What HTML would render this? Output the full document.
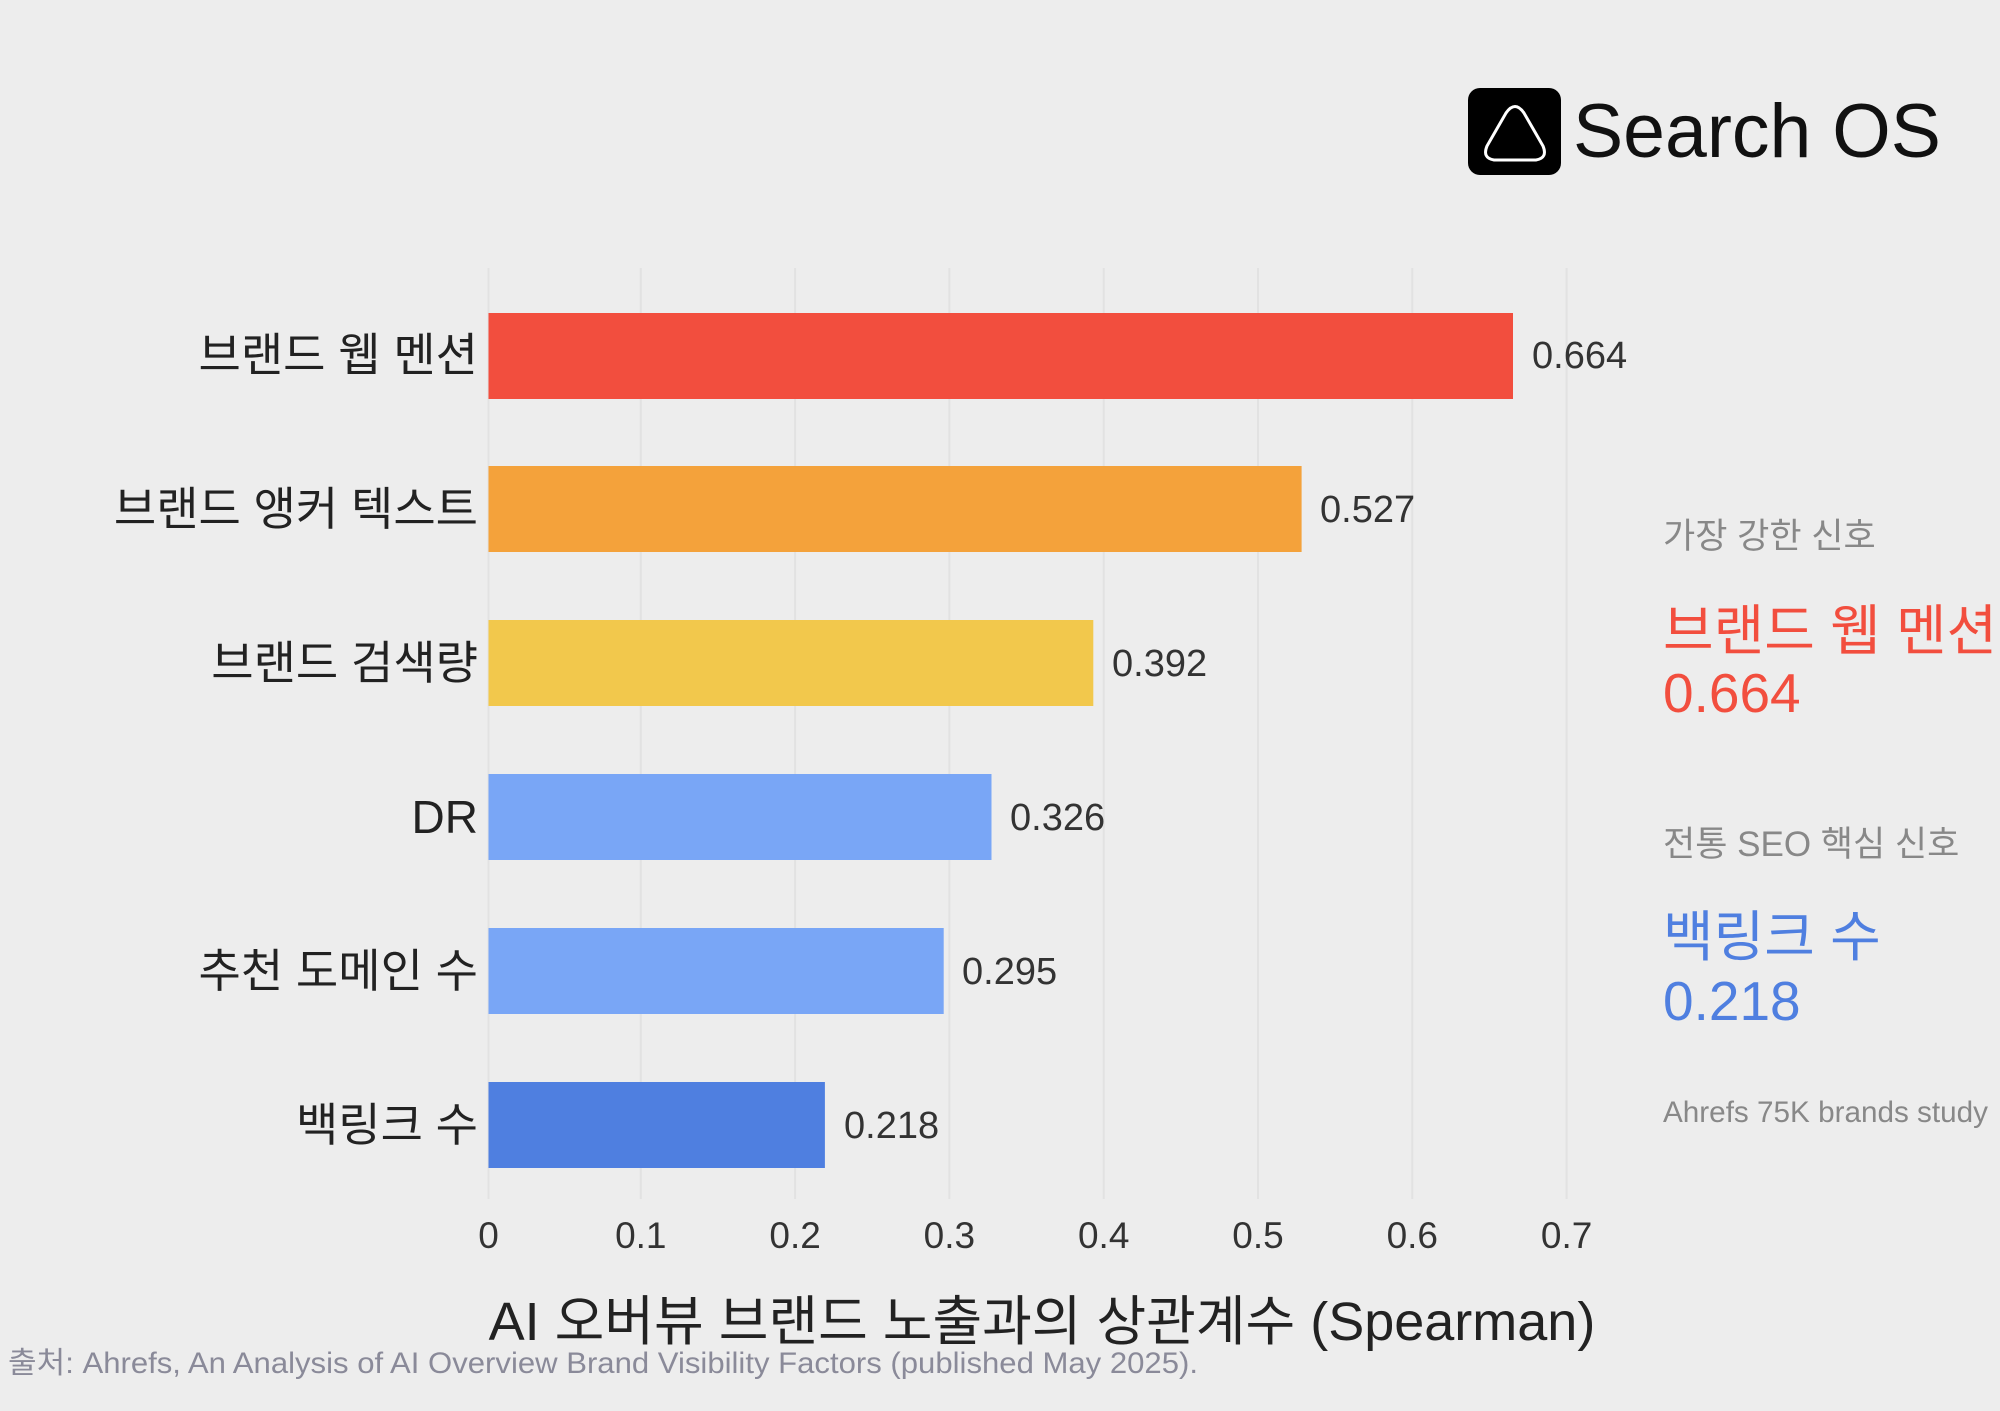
<!DOCTYPE html>
<html><head><meta charset="utf-8"><style>
html,body{margin:0;padding:0;background:#ededed;}
svg{display:block;font-family:"Liberation Sans","Noto Sans CJK KR",sans-serif;}
</style></head><body>
<svg width="2000" height="1411" viewBox="0 0 2000 1411" xmlns="http://www.w3.org/2000/svg">
<rect width="2000" height="1411" fill="#ededed"/>
<!-- logo -->
<rect x="1468" y="88" width="93" height="87" rx="12" fill="#000"/>
<path d="M1506 113 Q1515 100 1524 113 L1543 146 Q1548 158 1536 160 L1494 160 Q1482 158 1487 146 Z" fill="none" stroke="#fff" stroke-width="3"/>
<text x="1573" y="157" font-size="76" fill="#111" textLength="368" lengthAdjust="spacingAndGlyphs">Search OS</text>
<!-- grid -->
<g stroke="#e2e2e2" stroke-width="2">
<line x1="488.5" y1="268" x2="488.5" y2="1199"/>
<line x1="640.8" y1="268" x2="640.8" y2="1199"/>
<line x1="795.1" y1="268" x2="795.1" y2="1199"/>
<line x1="949.4" y1="268" x2="949.4" y2="1199"/>
<line x1="1103.7" y1="268" x2="1103.7" y2="1199"/>
<line x1="1258" y1="268" x2="1258" y2="1199"/>
<line x1="1412.3" y1="268" x2="1412.3" y2="1199"/>
<line x1="1566.6" y1="268" x2="1566.6" y2="1199"/>
</g>
<!-- bars -->
<rect x="488.5" y="313" width="1024.5" height="86" fill="#f24e3e"/>
<rect x="488.5" y="466" width="813.1" height="86" fill="#f4a23b"/>
<rect x="488.5" y="620" width="604.8" height="86" fill="#f2c84c"/>
<rect x="488.5" y="774" width="503" height="86" fill="#79a6f6"/>
<rect x="488.5" y="928" width="455.2" height="86" fill="#79a6f6"/>
<rect x="488.5" y="1082" width="336.4" height="86" fill="#4f7fe0"/>
<!-- category labels -->
<g font-size="46" fill="#222" text-anchor="end">
<text x="478" y="371">브랜드 웹 멘션</text>
<text x="478" y="525">브랜드 앵커 텍스트</text>
<text x="478" y="679">브랜드 검색량</text>
<text x="478" y="833">DR</text>
<text x="478" y="987">추천 도메인 수</text>
<text x="478" y="1141">백링크 수</text>
</g>
<!-- values -->
<g font-size="38" fill="#333">
<text x="1532" y="368">0.664</text>
<text x="1320" y="522">0.527</text>
<text x="1112" y="676">0.392</text>
<text x="1010" y="830">0.326</text>
<text x="962" y="984">0.295</text>
<text x="844" y="1138">0.218</text>
</g>
<!-- ticks -->
<g font-size="37" fill="#333" text-anchor="middle">
<text x="488.5" y="1248">0</text>
<text x="640.8" y="1248">0.1</text>
<text x="795.1" y="1248">0.2</text>
<text x="949.4" y="1248">0.3</text>
<text x="1103.7" y="1248">0.4</text>
<text x="1258" y="1248">0.5</text>
<text x="1412.3" y="1248">0.6</text>
<text x="1566.6" y="1248">0.7</text>
</g>
<text x="1042" y="1340" font-size="54" fill="#222" text-anchor="middle">AI 오버뷰 브랜드 노출과의 상관계수 (Spearman)</text>
<text x="8" y="1373" font-size="30" fill="#8a8a99" textLength="1190" lengthAdjust="spacingAndGlyphs">출처: Ahrefs, An Analysis of AI Overview Brand Visibility Factors (published May 2025).</text>
<!-- right panel -->
<text x="1663" y="548" font-size="35" fill="#888">가장 강한 신호</text>
<text x="1663" y="650" font-size="55" fill="#f24e3e">브랜드 웹 멘션</text>
<text x="1663" y="712" font-size="55" fill="#f24e3e">0.664</text>
<text x="1663" y="856" font-size="35" fill="#888">전통 SEO 핵심 신호</text>
<text x="1663" y="956" font-size="55" fill="#4f7fe0">백링크 수</text>
<text x="1663" y="1020" font-size="55" fill="#4f7fe0">0.218</text>
<text x="1663" y="1122" font-size="30" fill="#888" textLength="325" lengthAdjust="spacingAndGlyphs">Ahrefs 75K brands study</text>
</svg>
</body></html>
